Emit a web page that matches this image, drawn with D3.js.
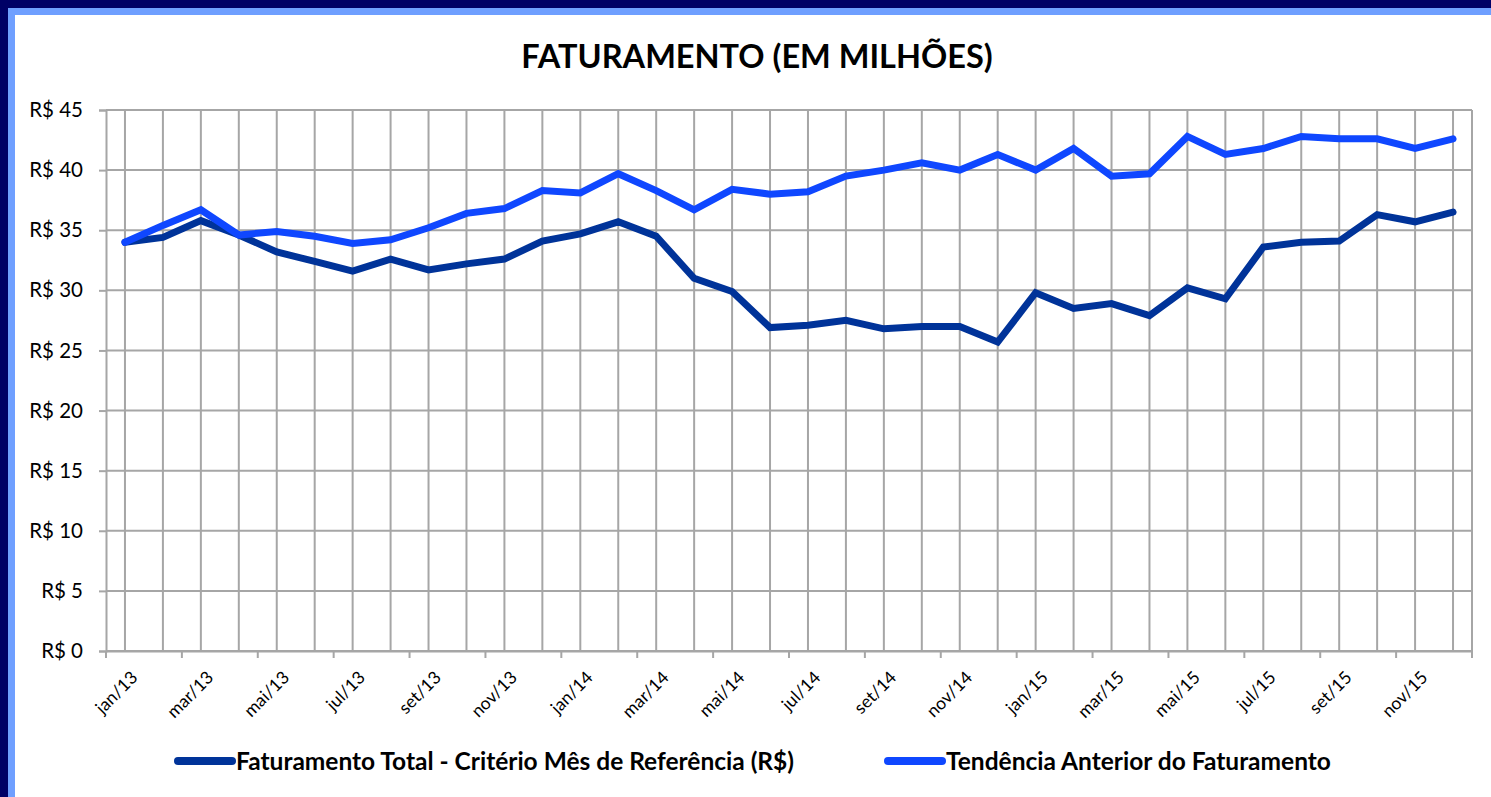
<!DOCTYPE html>
<html lang="pt">
<head>
    <meta charset="UTF-8">
    <title>Faturamento (em milhões)</title>
    <script src="https://d3js.org/d3.v7.min.js"></script>
    <style>
        body { margin: 0; background: #fff; }
        svg { display: block; }
        text { font-family: Lato, "Open Sans", sans-serif; fill: #000; }
    </style>
</head>
<body>
    <svg width="1491" height="797"></svg>
    <script>
        // meses (jan/13 .. dez/15)
        const months = [
            "jan/13","fev/13","mar/13","abr/13","mai/13","jun/13","jul/13","ago/13","set/13","out/13","nov/13","dez/13",
            "jan/14","fev/14","mar/14","abr/14","mai/14","jun/14","jul/14","ago/14","set/14","out/14","nov/14","dez/14",
            "jan/15","fev/15","mar/15","abr/15","mai/15","jun/15","jul/15","ago/15","set/15","out/15","nov/15","dez/15"
        ];

        // Faturamento Total - Critério Mês de Referência (R$ milhões)
        const faturamento = [
            34.0, 34.4, 35.8, 34.6, 33.2, 32.4, 31.6, 32.6, 31.7, 32.2, 32.6, 34.1,
            34.7, 35.7, 34.5, 31.0, 29.9, 26.9, 27.1, 27.5, 26.8, 27.0, 27.0, 25.7,
            29.8, 28.5, 28.9, 27.9, 30.2, 29.3, 33.6, 34.0, 34.1, 36.3, 35.7, 36.5
        ];

        // Tendência Anterior do Faturamento
        const tendencia = [
            34.0, 35.4, 36.7, 34.6, 34.9, 34.5, 33.9, 34.2, 35.2, 36.4, 36.8, 38.3,
            38.1, 39.7, 38.3, 36.7, 38.4, 38.0, 38.2, 39.5, 40.0, 40.6, 40.0, 41.3,
            40.0, 41.8, 39.5, 39.7, 42.8, 41.3, 41.8, 42.8, 42.6, 42.6, 41.8, 42.6
        ];

        const yTicks = [0, 5, 10, 15, 20, 25, 30, 35, 40, 45];

        const series = [
            { name: "Faturamento Total - Critério Mês de Referência (R$)", values: faturamento, color: "#003399" },
            { name: "Tendência Anterior do Faturamento", values: tendencia, color: "#0F47FF" }
        ];

        const W = 1491, H = 797;
        const plot = { left: 106, right: 1472, top: 110, bottom: 651 };
        const gridColor = "#a6a6a6";

        const svg = d3.select("svg");

        // moldura
        svg.append("rect").attr("x", 0).attr("y", 0).attr("width", W).attr("height", H).attr("fill", "#000066");
        svg.append("rect").attr("x", 8).attr("y", 8).attr("width", W - 8).attr("height", H - 8).attr("fill", "#6f9fff");
        svg.append("rect").attr("x", 15).attr("y", 15).attr("width", W - 15).attr("height", H - 15).attr("fill", "#ffffff");

        // titulo
        svg.append("text")
            .attr("x", 757).attr("y", 68)
            .attr("text-anchor", "middle")
            .style("font-size", "32.5px").style("font-weight", "bold")
            .text("FATURAMENTO (EM MILHÕES)");

        // escalas
        const xBand = d3.scaleBand().domain(months).range([plot.left, plot.right]);
        const xPoint = d => xBand(d) + xBand.bandwidth() / 2;
        const y = d3.scaleLinear().domain([0, 45]).range([plot.bottom, plot.top]);

        // grade horizontal
        svg.append("g").selectAll("line").data(yTicks).join("line")
            .attr("x1", plot.left).attr("x2", plot.right)
            .attr("y1", d => y(d)).attr("y2", d => y(d))
            .attr("stroke", gridColor).attr("stroke-width", 2);

        // grade vertical (nos pontos)
        svg.append("g").selectAll("line").data(months).join("line")
            .attr("x1", d => xPoint(d)).attr("x2", d => xPoint(d))
            .attr("y1", plot.top).attr("y2", plot.bottom)
            .attr("stroke", gridColor).attr("stroke-width", 2);

        // borda direita da area
        svg.append("line")
            .attr("x1", plot.right).attr("x2", plot.right)
            .attr("y1", plot.top).attr("y2", plot.bottom)
            .attr("stroke", gridColor).attr("stroke-width", 2);

        // eixo Y
        const yAxis = svg.append("g")
            .attr("transform", `translate(${plot.left},0)`)
            .call(d3.axisLeft(y).tickValues(yTicks).tickSize(7).tickPadding(16)
                .tickFormat(d => "R$ " + d));
        yAxis.select(".domain").attr("stroke", gridColor).attr("stroke-width", 2);
        yAxis.selectAll(".tick line").attr("stroke", gridColor).attr("stroke-width", 2);
        yAxis.selectAll("text").style("font-size", "20.5px").attr("fill", "#000");

        // eixo X
        const xAxis = svg.append("g")
            .attr("transform", `translate(0,${plot.bottom})`)
            .call(d3.axisBottom(xBand).tickSize(0).tickFormat(""));
        xAxis.select(".domain").attr("stroke", gridColor).attr("stroke-width", 2);
        xAxis.selectAll(".tick").remove();

        // marcas de divisao a cada 2 meses
        const labelled = months.filter((d, i) => i % 2 === 0);
        const boundaries = labelled.map(d => xBand(d)).concat([plot.right]);
        svg.append("g").selectAll("line").data(boundaries).join("line")
            .attr("x1", d => d).attr("x2", d => d)
            .attr("y1", plot.bottom).attr("y2", plot.bottom + 7)
            .attr("stroke", gridColor).attr("stroke-width", 2);

        svg.append("g").selectAll("text").data(labelled).join("text")
            .attr("transform", d => `translate(${xPoint(d) + 5},${plot.bottom + 19}) rotate(-45)`)
            .attr("text-anchor", "end")
            .attr("dy", "0.7em")
            .style("font-size", "17.5px")
            .text(d => d);

        // linhas
        const line = d3.line()
            .x((d, i) => xPoint(months[i]))
            .y(d => y(d));

        svg.append("g").selectAll("path").data(series).join("path")
            .attr("d", d => line(d.values))
            .attr("fill", "none")
            .attr("stroke", d => d.color)
            .attr("stroke-width", 7)
            .attr("stroke-linejoin", "miter")
            .attr("stroke-linecap", "round");

        // legenda
        const legendPos = [178, 888];
        const legend = svg.append("g").selectAll("g").data(series).join("g")
            .attr("transform", (d, i) => `translate(${legendPos[i]},761)`);
        legend.append("line")
            .attr("x1", 0).attr("x2", 54)
            .attr("stroke", d => d.color).attr("stroke-width", 8).attr("stroke-linecap", "round");
        legend.append("text")
            .attr("x", 58).attr("dy", "0.36em")
            .style("font-size", "24.5px").style("font-weight", "bold")
            .text(d => d.name);
    </script>
</body>
</html>
